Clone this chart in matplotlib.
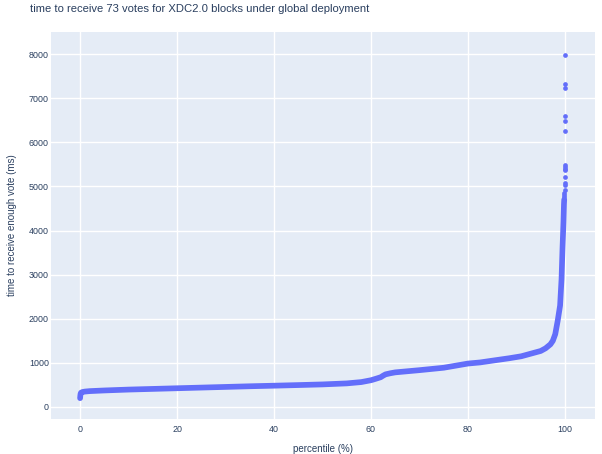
import matplotlib
matplotlib.use("Agg")
import matplotlib.pyplot as plt

# main (dense) part of the sorted distribution
percentile = [0, 0.05, 0.1, 0.2, 0.5, 1, 2, 5, 10, 15, 20, 25, 30, 35, 40, 45, 50,
              55, 58, 60, 61, 62, 62.5, 63, 64, 65, 68, 70, 75, 80, 82.5, 85, 88.5,
              91, 93, 95, 96, 97, 97.5, 98, 98.5, 99, 99.3, 99.5, 99.7, 99.8, 99.85]
time_ms = [200, 260, 300, 325, 340, 350, 360, 375, 395, 410, 425, 440, 455, 470, 483,
           497, 512, 535, 565, 607, 640, 675, 710, 740, 765, 785, 815, 835, 890, 985,
           1010, 1050, 1105, 1150, 1210, 1270, 1330, 1420, 1500, 1650, 1950, 2300,
           2900, 3600, 4200, 4600, 4700]

# sparse top tail (individual blocks)
tail_percentile = [99.88, 99.89, 99.9, 99.91, 99.92, 99.93, 99.94, 99.95, 99.955,
                   99.96, 99.965, 99.97, 99.975, 99.98, 99.985, 99.99, 100]
tail_ms = [4750, 4800, 4850, 4909, 5023, 5068, 5211, 5370, 5400, 5430, 5480,
           6257, 6485, 6590, 7220, 7318, 7990]

title = "time to receive 73 votes for XDC2.0 blocks under global deployment"
xlabel = "percentile (%)"
ylabel = "time to receive enough vote (ms)"
xticks = [0, 20, 40, 60, 80, 100]
yticks = [0, 1000, 2000, 3000, 4000, 5000, 6000, 7000, 8000]

TXT = "#2a3f5f"
MARK = "#636efa"
plt.rcParams["font.family"] = ["Liberation Sans", "DejaVu Sans"]

fig = plt.figure(figsize=(6.02, 4.54), dpi=100)
ax = fig.add_axes([51 / 602, 1 - 419 / 454, 544 / 602, 387 / 454])
ax.set_facecolor("#e5ecf6")

ax.plot(percentile, time_ms, "-", color=MARK, lw=4.1,
        solid_capstyle="round", solid_joinstyle="round", zorder=3)
ax.plot(tail_percentile, tail_ms, "o", color=MARK, ms=3.4, mew=0, zorder=3)

ax.set_xlim(-6, 106.2)
ax.set_ylim(-272, 8500)
ax.set_xticks(xticks)
ax.set_yticks(yticks)
ax.grid(True, color="white", lw=1.0)
ax.set_axisbelow(True)
for s in ax.spines.values():
    s.set_visible(False)
ax.tick_params(length=0, labelsize=6.4, labelcolor=TXT)
ax.tick_params(axis="y", pad=1.5)
ax.tick_params(axis="x", pad=4)

ax.set_xlabel(xlabel, fontsize=7.0, color=TXT, labelpad=7.5)
ax.set_ylabel(ylabel, fontsize=7.0, color=TXT, labelpad=8.5)
fig.text(30 / 602, 1 - 9.5 / 454, title, fontsize=8.15, color=TXT, ha="left", va="center")

fig.savefig("out.png", dpi=100, facecolor="white")
